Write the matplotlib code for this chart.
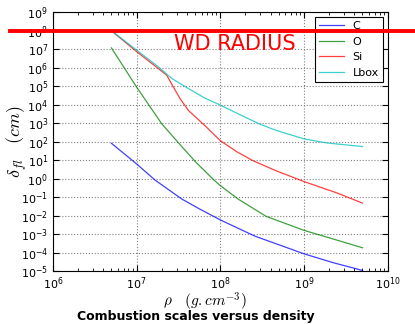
import numpy as np
import matplotlib
matplotlib.use('Agg')
import matplotlib.pyplot as plt

plt.rcParams['mathtext.fontset'] = 'cm'

### values (density in g/cm^3, length in cm)
rho_C = [5e6, 1e7, 1.66e7, 3.47e7, 5.62e7, 1e8, 2.57e8, 1e9, 2.24e9, 5e9]
delta_C = [8.1e1, 6.2e0, 8.3e-1, 7.8e-2, 2.3e-2, 5.8e-3, 7.8e-4, 8.5e-5, 2.8e-5, 1.07e-5]

rho_O = [5e6, 1e7, 2e7, 3.0e7, 5.0e7, 8.5e7, 1e8, 1.63e8, 3.55e8, 1e9, 2.55e9, 5e9]
delta_O = [1.17e7, 8.9e4, 9.1e2, 1.12e2, 8.5e0, 7.9e-1, 4.2e-1, 7.8e-2, 8.9e-3, 1.58e-3, 4.5e-4, 1.8e-4]

rho_Si = [5e6, 1e7, 1.82e7, 2.29e7, 2.75e7, 3.31e7, 4.17e7, 6.6e7, 1e8, 1.58e8,
          2.45e8, 4.68e8, 1e9, 2.45e9, 5e9]
delta_Si = [1e8, 7.4e6, 8.9e5, 3.9e5, 8.9e4, 2.1e4, 4.8e3, 7.1e2, 1.12e2, 2.8e1,
            9.3e0, 2.6e0, 6.9e-1, 1.7e-1, 4.7e-2]

rho_L = [5e6, 1e7, 1.82e7, 2.63e7, 4.17e7, 6.6e7, 1e8, 1.86e8, 2.95e8, 4.68e8,
         1e9, 1.86e9, 5e9]
delta_L = [1e8, 8.9e6, 1.1e6, 2.6e5, 7.4e4, 2.2e4, 9.5e3, 2.4e3, 8.9e2, 4.0e2,
           1.41e2, 8.5e1, 5.4e1]

wd_radius = 1e8

fig = plt.figure(figsize=(4.15, 3.24), dpi=100)
ax = fig.add_axes([0.1275, 0.1636, 0.8067, 0.7987])

ax.plot(rho_C, delta_C, color='b', lw=0.9, alpha=0.75, label='C')
ax.plot(rho_O, delta_O, color='g', lw=0.9, alpha=0.75, label='O')
ax.plot(rho_Si, delta_Si, color='r', lw=0.9, alpha=0.75, label='Si')
ax.plot(rho_L, delta_L, color='c', lw=0.9, alpha=0.75, label='Lbox')

ax.set_xscale('log')
ax.set_yscale('log')
ax.set_xlim(1e6, 1e10)
ax.set_ylim(1e-5, 1e9)
ax.set_yticks([10.0**k for k in range(-5, 10)])

ax.grid(True, which='major', color='gray', linestyle=':', lw=0.8)
ax.tick_params(which='both', direction='in', top=True, right=True, labelsize=8)
ax.tick_params(which='major', length=4)
ax.tick_params(which='minor', length=2)

leg = ax.legend(loc='upper right', fontsize=8, fancybox=False, framealpha=1,
                edgecolor='black', borderaxespad=0.4, handlelength=2.2)
leg.get_frame().set_linewidth(0.8)

### white dwarf radius line, runs past the axes
ax.axhline(wd_radius, xmin=-0.128, xmax=1.09, color='red', lw=2.8,
           clip_on=False, zorder=6)
ax.text(10**8.17, 10**7.3, 'WD RADIUS', color='red', fontsize=15,
        ha='center', va='center')

ax.set_xlabel(r'$\rho\quad(g.cm^{-3})$', fontsize=11)
ax.xaxis.set_label_coords(0.454, -0.075)
ax.set_ylabel(r'$\delta_{fl}\quad(cm)$', fontsize=13)
ax.yaxis.set_label_coords(-0.07, 0.5)

fig.text(0.472, 0.022, 'Combustion scales versus density', fontsize=9,
         fontweight='bold', ha='center', va='center')

plt.savefig('out.png', dpi=100)
